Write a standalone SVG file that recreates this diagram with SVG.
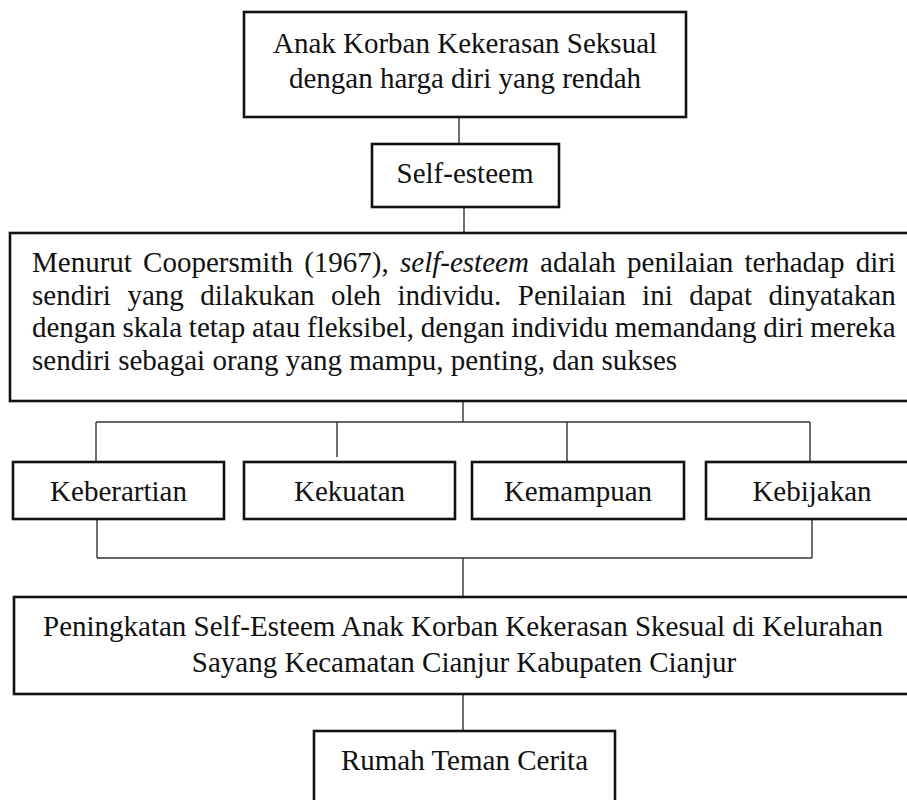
<svg xmlns="http://www.w3.org/2000/svg" width="907" height="800" viewBox="0 0 907 800">
<style>
.box{fill:#fff;stroke:#111;stroke-width:2.6}
.t{font-family:"Liberation Serif","Times New Roman",serif;font-size:29px;fill:#111}
.c{text-anchor:middle}
.conn line{stroke:#333;stroke-width:1.4}
</style>
<rect width="907" height="800" fill="#fff"/>
<g id="connectors" class="conn">
<line x1="459" y1="117" x2="459" y2="144"/>
<line x1="464" y1="207" x2="464" y2="233"/>
<line x1="463" y1="401" x2="463" y2="422"/>
<line x1="96" y1="422" x2="810" y2="422"/>
<line x1="96" y1="422" x2="96" y2="462"/>
<line x1="337" y1="422" x2="337" y2="457"/>
<line x1="567" y1="422" x2="567" y2="462"/>
<line x1="810" y1="422" x2="810" y2="462"/>
<line x1="97" y1="519" x2="97" y2="558"/>
<line x1="812" y1="519" x2="812" y2="558"/>
<line x1="97" y1="558" x2="812" y2="558"/>
<line x1="463" y1="558" x2="463" y2="597"/>
<line x1="463" y1="694" x2="463" y2="731"/>
</g>
<g id="node-anak">
<rect class="box" x="244" y="12" width="442" height="105"/>
<text class="t c" x="465" y="53">Anak Korban Kekerasan Seksual</text>
<text class="t c" x="465" y="88">dengan harga diri yang rendah</text>
</g>
<g id="node-selfesteem">
<rect class="box" x="372" y="144" width="187" height="63"/>
<text class="t c" x="465" y="183">Self-esteem</text>
</g>
<g id="node-definisi">
<rect class="box" x="10" y="233" width="910" height="168"/>
<text class="t" x="32" y="272" word-spacing="4">Menurut Coopersmith (1967), <tspan font-style="italic">self-esteem</tspan> adalah penilaian terhadap diri</text>
<text class="t" x="32" y="304.5" word-spacing="9.2">sendiri yang dilakukan oleh individu. Penilaian ini dapat dinyatakan</text>
<text class="t" x="32" y="337" word-spacing="-0.5">dengan skala tetap atau fleksibel, dengan individu memandang diri mereka</text>
<text class="t" x="32" y="369.5">sendiri sebagai orang yang mampu, penting, dan sukses</text>
</g>
<g id="node-keberartian">
<rect class="box" x="13" y="462" width="211" height="57"/>
<text class="t c" x="118.5" y="501">Keberartian</text>
</g>
<g id="node-kekuatan">
<rect class="box" x="244" y="462" width="211" height="57"/>
<text class="t c" x="349.5" y="501">Kekuatan</text>
</g>
<g id="node-kemampuan">
<rect class="box" x="472" y="462" width="212" height="57"/>
<text class="t c" x="578" y="501">Kemampuan</text>
</g>
<g id="node-kebijakan">
<rect class="box" x="706" y="462" width="212" height="57"/>
<text class="t c" x="812" y="501">Kebijakan</text>
</g>
<g id="node-peningkatan">
<rect class="box" x="14" y="597" width="906" height="97"/>
<text class="t c" x="463" y="636">Peningkatan Self-Esteem Anak Korban Kekerasan Skesual di Kelurahan</text>
<text class="t c" x="464" y="672">Sayang Kecamatan Cianjur Kabupaten Cianjur</text>
</g>
<g id="node-rumah">
<rect class="box" x="314" y="731" width="301" height="90"/>
<text class="t c" x="464.5" y="770">Rumah Teman Cerita</text>
</g>
</svg>
